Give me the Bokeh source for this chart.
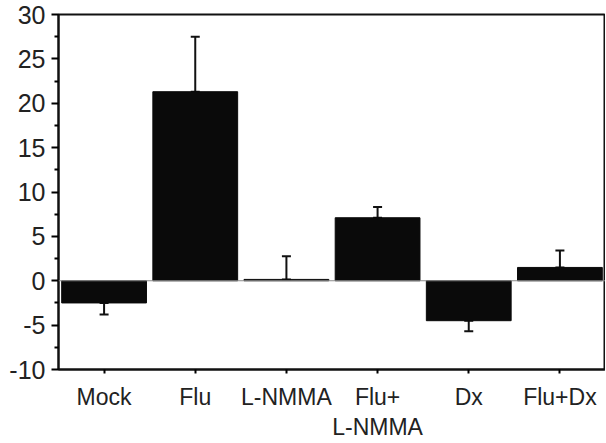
from bokeh.plotting import figure
from bokeh.models import (ColumnDataSource, Whisker, FixedTicker, Span, TeeHead,
                          CategoricalAxis, FactorRange)
from bokeh.embed import file_html
from bokeh.resources import INLINE

categories = ["Mock", "Flu", "L-NMMA", "Flu+", "Dx", "Flu+Dx"]
second_line = ["", "", "", "L-NMMA", "", ""]
values = [-2.5, 21.3, 0.15, 7.1, -4.5, 1.5]
errors = [1.3, 6.2, 2.6, 1.2, 1.2, 1.9]
y_ticks = [-10, -5, 0, 5, 10, 15, 20, 25, 30]
y_minor = [-7.5, -2.5, 2.5, 7.5, 12.5, 17.5, 22.5, 27.5]
y_tick_text = {-10: "-10", -5: "-5"}
y_min, y_max = -10, 30

lower = [v - e if v < 0 else v for v, e in zip(values, errors)]
upper = [v if v < 0 else v + e for v, e in zip(values, errors)]
src = ColumnDataSource(dict(cat=categories, val=values, lower=lower, upper=upper))

# unique factor names for the second label row (blank ones are whitespace)
line2_factors = [s if s else " " * (i + 1) for i, s in enumerate(second_line)]

FONT = "Liberation Sans"
INK = "#111111"
TXT = "#222222"

p = figure(x_range=categories, y_range=(y_min, y_max), width=605, height=442,
           output_backend="svg", toolbar_location=None,
           min_border_left=58, min_border_right=0, min_border_top=14, min_border_bottom=70)
p.x_range.range_padding = 0.0
p.extra_x_ranges = {"line2": FactorRange(factors=line2_factors, range_padding=0.0)}

p.add_layout(Span(location=0, dimension="width", line_color="#8a8a8a", line_width=1))

p.vbar(x="cat", top="val", bottom=0, width=0.93, source=src,
       fill_color="#0a0a0a", line_color="#0a0a0a")

w = Whisker(base="cat", lower="lower", upper="upper", source=src,
            line_color=INK, line_width=2,
            upper_head=TeeHead(size=9, line_width=2, line_color=INK),
            lower_head=TeeHead(size=9, line_width=2, line_color=INK))
p.add_layout(w)

p.grid.visible = False
p.outline_line_color = INK
p.outline_line_width = 2

p.yaxis.ticker = FixedTicker(ticks=y_ticks, minor_ticks=y_minor)
p.yaxis.major_label_overrides = y_tick_text
p.yaxis.axis_line_width = 2
p.yaxis.axis_line_color = INK
p.yaxis.major_tick_out = 7
p.yaxis.major_tick_in = 0
p.yaxis.minor_tick_out = 4
p.yaxis.minor_tick_in = 0
p.yaxis.major_tick_line_width = 2
p.yaxis.minor_tick_line_width = 2
p.yaxis.major_label_text_font = FONT
p.yaxis.major_label_text_font_size = "25px"
p.yaxis.major_label_text_color = TXT
p.yaxis.major_label_standoff = 6

xa = p.xaxis[0]
xa.axis_line_width = 2
xa.axis_line_color = INK
xa.major_tick_out = 4
xa.major_tick_in = 0
xa.major_tick_line_width = 2
xa.major_label_text_font = FONT
xa.major_label_text_font_size = "23px"
xa.major_label_text_color = TXT
xa.major_label_standoff = 10

ax2 = CategoricalAxis(x_range_name="line2",
                      axis_line_color=None, major_tick_line_color=None,
                      minor_tick_line_color=None, major_tick_out=0, major_tick_in=0,
                      major_label_standoff=1,
                      major_label_text_font=FONT, major_label_text_font_size="23px",
                      major_label_text_color=TXT)
p.add_layout(ax2, "below")

open("out.html", "w").write(file_html(p, INLINE))
